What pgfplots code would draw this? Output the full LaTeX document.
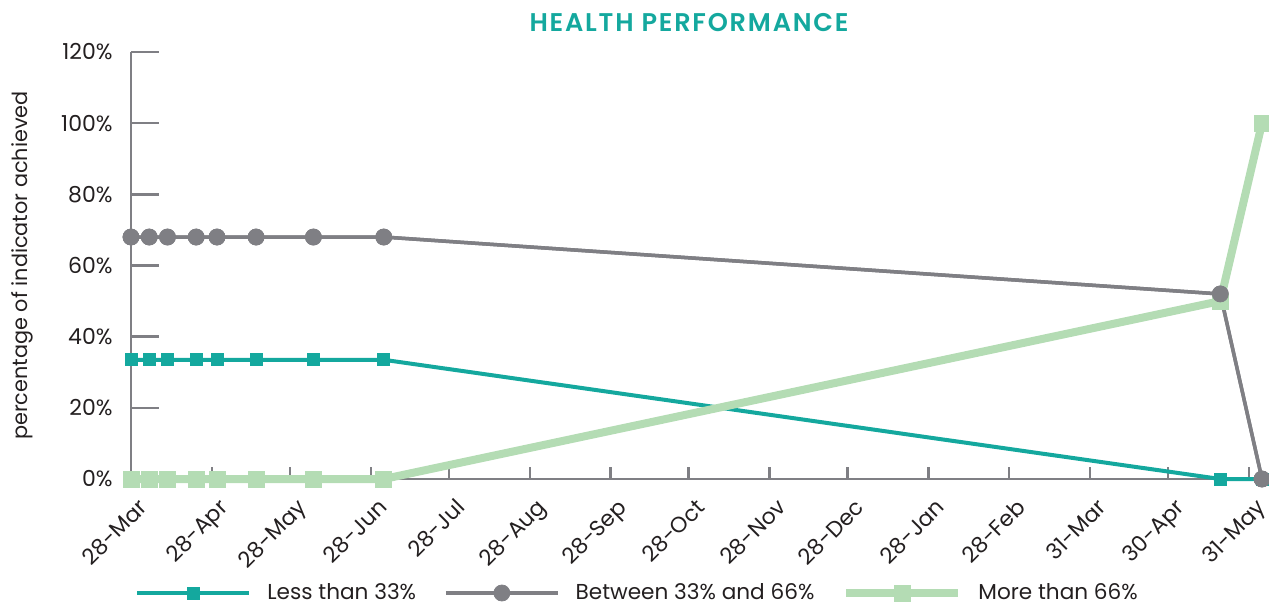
\documentclass[border=0pt]{standalone}
\usepackage{fontspec}
\setmainfont{Poppins}
\newfontfamily\titlefont{Poppins SemiBold}[LetterSpace=7]
\usepackage{pgfplots}
\pgfplotsset{compat=1.18}
\usetikzlibrary{calc}
\definecolor{cteal}{HTML}{14A89E}
\definecolor{cgray}{HTML}{7F7F84}
\definecolor{cgreen}{HTML}{B4DCB4}
\definecolor{ctext}{HTML}{231F20}
\begin{document}
\begin{tikzpicture}
\begin{axis}[
  name=ax,
  scale only axis, width=565.5bp, height=213.5bp,
  xmin=0, xmax=434, ymin=0, ymax=120,
  clip=false,
  axis x line=bottom, axis y line=left,
  axis line style={-, cgray, line width=1.2bp},
  tick align=inside,
  xtick={0,31,61,92,122,153,184,214,245,275,306,337,368,398,429},
  xticklabels={28-Mar,28-Apr,28-May,28-Jun,28-Jul,28-Aug,28-Sep,28-Oct,28-Nov,28-Dec,28-Jan,28-Feb,31-Mar,30-Apr,31-May},
  ytick={0,20,40,60,80,100,120},
  yticklabels={0\%,20\%,40\%,60\%,80\%,100\%,120\%},
  xtick style={cgray, line width=1.2bp, /pgfplots/major tick length=6bp},
  ytick style={cgray, line width=1.2bp, /pgfplots/major tick length=14bp},
  tick label style={font=\fontsize{11bp}{13bp}\selectfont, text=ctext, inner sep=0pt},
  xticklabel style={xshift=3bp, yshift=-9bp, rotate=45, anchor=north east},
  yticklabel style={xshift=-9bp, anchor=east},
  title={HEALTH PERFORMANCE},
  every axis title/.style={at={(rel axis cs:0.4934,1)}, yshift=14.5bp, anchor=center,
    font=\titlefont\fontsize{12.8bp}{14bp}\selectfont, text=cteal},
  ylabel={percentage of indicator achieved},
  every axis y label/.style={at={(rel axis cs:0,0.5)}, xshift=-54.5bp, rotate=90, anchor=center,
    font=\fontsize{10.4bp}{13bp}\selectfont, text=ctext},
  legend style={at={(rel axis cs:0,0)}, xshift=-1bp, yshift=-57bp, anchor=west,
    draw=none, fill=none, legend columns=3,
    font=\fontsize{10.8bp}{13bp}\selectfont, text=ctext,
    nodes={inner sep=0pt},
    /tikz/every odd column/.append style={column sep=8bp},
    /tikz/every even column/.append style={column sep=14bp}},
  legend cell align=left,
  legend image code/.code={\draw[mark repeat=2, mark phase=2, #1] plot coordinates {(0bp,0bp) (28bp,0bp) (56bp,0bp)};},
]
\addplot[cteal, line width=2bp, mark=square*, mark size=3bp, mark options={line width=0.4bp}] coordinates {
  (0,33.5) (7,33.5) (14,33.5) (25,33.5) (33,33.5) (48,33.5) (70,33.5) (97,33.5) (418,0) (434,0)};
\addlegendentry{Less than 33\%}
\addplot[cgray, line width=1.75bp, mark=*, mark size=4bp, mark options={line width=0.4bp}] coordinates {
  (0,68) (7,68) (14,68) (25,68) (33,68) (48,68) (70,68) (97,68) (418,52) (434,0)};
\addlegendentry{Between 33\% and 66\%}
\addplot[cgreen, line width=4bp, mark=square*, mark size=4bp, mark options={line width=0.4bp}] coordinates {
  (0,0) (7,0) (14,0) (25,0) (33,0) (48,0) (70,0) (97,0) (418,50) (434,100)};
\addlegendentry{More than 66\%}
\addplot[cgray, line width=1.75bp, mark=*, mark size=4bp, mark options={line width=0.4bp}, forget plot] coordinates {
  (0,68) (7,68) (14,68) (25,68) (33,68) (48,68) (70,68) (97,68) (418,52) (434,0)};
\end{axis}
\pgfresetboundingbox
\path ($(ax.south west)+(-65.5bp,-63.5bp)$) rectangle ($(ax.south west)+(569bp,239.5bp)$);
\end{tikzpicture}
\end{document}
